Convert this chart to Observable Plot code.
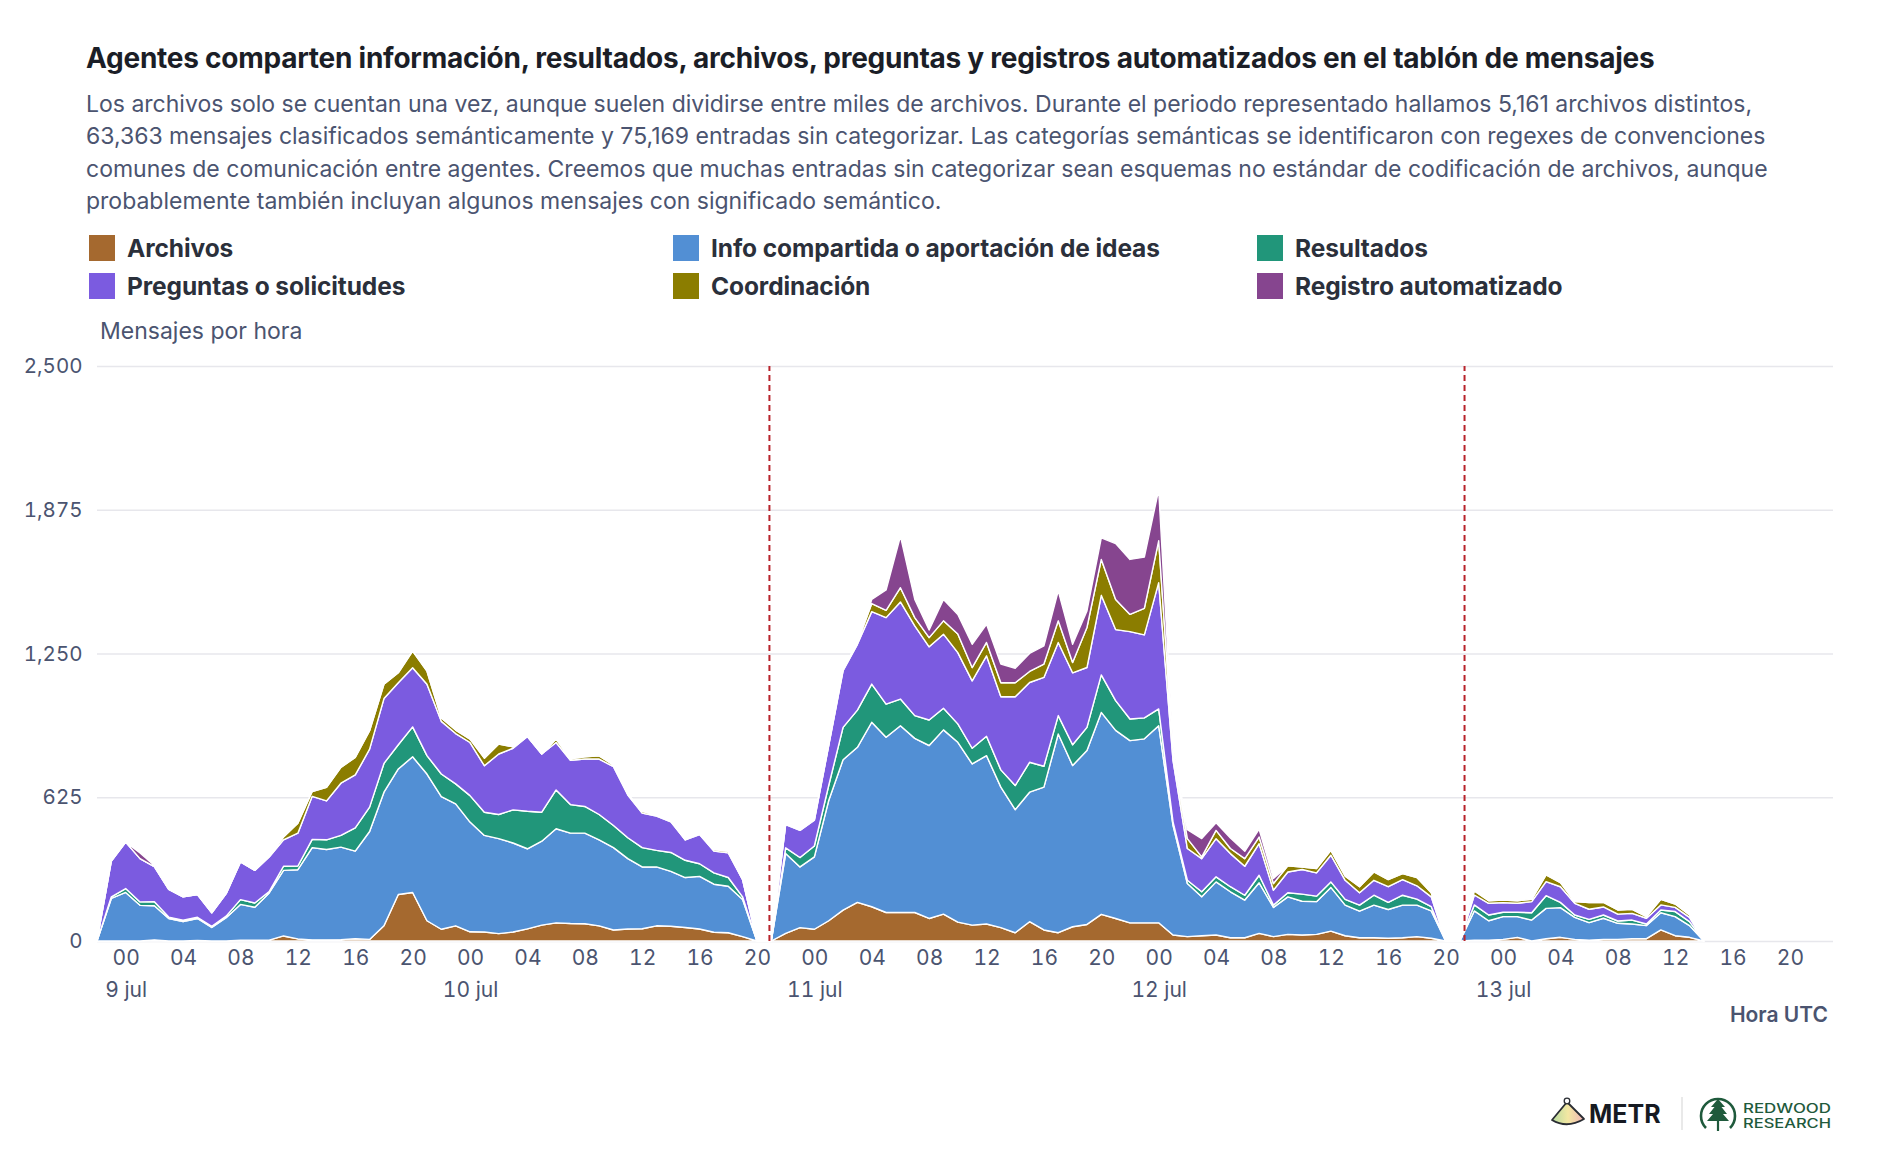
<!DOCTYPE html>
<html><head><meta charset="utf-8">
<script src="https://cdn.jsdelivr.net/npm/d3@7"></script>
<script src="https://cdn.jsdelivr.net/npm/@observablehq/plot@0.6"></script>
<style>
body{margin:0;background:#fff;font-family:Inter,"Noto Sans",sans-serif;}
#wrap{position:relative;width:1880px;height:1160px;overflow:hidden;background:#fff;}
#title{position:absolute;left:86px;top:42px;font-size:28px;font-weight:700;color:#1b1e27;line-height:32px;white-space:nowrap;letter-spacing:-0.25px}
#sub{position:absolute;left:86px;top:88px;font-size:23px;line-height:32.4px;color:#4b5470;white-space:nowrap}
.leg{position:absolute;display:flex;align-items:center;font-size:24.5px;font-weight:700;color:#2b303b;white-space:nowrap;height:26px;letter-spacing:-0.1px}
.sw{width:26px;height:26px;margin-right:12px;flex:none}
#ylab{position:absolute;left:100px;top:318px;font-size:23px;color:#4b5470;line-height:26px}
#chart{position:absolute;left:0;top:300px}
#xlab{position:absolute;right:52px;top:1002px;font-size:21px;font-weight:600;color:#4b5470;line-height:26px}
#logos{position:absolute;left:1540px;top:1090px}
</style></head>
<body>
<div id="wrap">
  <div id="title">Agentes comparten información, resultados, archivos, preguntas y registros automatizados en el tablón de mensajes</div>
  <div id="sub">Los archivos solo se cuentan una vez, aunque suelen dividirse entre miles de archivos. Durante el periodo representado hallamos 5,161 archivos distintos,<br>63,363 mensajes clasificados semánticamente y 75,169 entradas sin categorizar. Las categorías semánticas se identificaron con regexes de convenciones<br>comunes de comunicación entre agentes. Creemos que muchas entradas sin categorizar sean esquemas no estándar de codificación de archivos, aunque<br>probablemente también incluyan algunos mensajes con significado semántico.</div>
  <div id="legend"></div>
  <div id="ylab">Mensajes por hora</div>
  <div id="chart"></div>
  <div id="xlab">Hora UTC</div>
  <svg id="logos" width="300" height="50" viewBox="1540 1090 300 50">
    <defs>
      <linearGradient id="mg" x1="0" x2="1" y1="0" y2="0">
        <stop offset="0" stop-color="#b6dba0"/><stop offset="0.5" stop-color="#f3e7a2"/><stop offset="1" stop-color="#f2b6b8"/>
      </linearGradient>
    </defs>
    <path d="M1567,1102 L1552,1120 Q1567,1129 1584,1119 Z" fill="url(#mg)" stroke="#2a2d33" stroke-width="1.8" stroke-linejoin="round"/>
    <circle cx="1567" cy="1101" r="2.8" fill="#fff" stroke="#2a2d33" stroke-width="1.3"/>
    <text x="1589" y="1123" font-family="Inter" font-weight="700" font-size="25" fill="#161a22">METR</text>
    <line x1="1682" y1="1097" x2="1682" y2="1130" stroke="#e2e2e2" stroke-width="1.5"/>
    <path d="M1706,1128 A17,17 0 1,1 1730,1128" fill="none" stroke="#1f5a3c" stroke-width="2.6"/>
    <path d="M1718,1099 L1711,1107 L1714.5,1107 L1709,1114 L1713,1114 L1707,1121 L1729,1121 L1723,1114 L1727,1114 L1721.5,1107 L1725,1107 Z" fill="#1f5a3c"/>
    <line x1="1718" y1="1120" x2="1718" y2="1131" stroke="#1f5a3c" stroke-width="2.2"/>
    <text font-family="Inter" font-weight="500" font-size="12.5" fill="#1f5a3c"><tspan x="1743" y="1113" textLength="88" lengthAdjust="spacingAndGlyphs">REDWOOD</tspan><tspan x="1743" y="1128" textLength="88" lengthAdjust="spacingAndGlyphs">RESEARCH</tspan></text>
  </svg>
</div>
<script>
// ---- Data (messages per hour, hourly from 8 jul 22:00 UTC) ----
const series = ["Archivos", "Info compartida o aportación de ideas", "Resultados",
                "Preguntas o solicitudes", "Coordinación", "Registro automatizado"];
const colors = ["#a5692f", "#528fd4", "#21967a", "#7b5be0", "#8b7d00", "#86458f"];

const archivos = [
  0, 0,
  0, 0, 5, 0, 0, 2, 0, 0, 3, 4, 4, 22, 9, 5, 5, 6, 10, 7, 66, 202, 211, 88, 51, 66,
  40, 39, 32, 39, 53, 69, 79, 76, 75, 66, 48, 52, 53, 66, 64, 59, 52, 38, 36, 19, 0, 0, 33, 58,
  51, 88, 134, 168, 149, 124, 124, 124, 98, 117, 82, 69, 74, 58, 36, 84, 48, 36, 62, 72, 116, 98, 79, 79,
  79, 26, 19, 23, 26, 14, 14, 33, 19, 29, 26, 29, 43, 23, 14, 14, 12, 14, 19, 12, 0, 0, 4, 4,
  7, 16, 0, 10, 16, 7, 4, 7, 7, 10, 10, 48, 23, 16, 0];
const info = [
  0, 185,
  211, 155, 148, 98, 84, 96, 59, 101, 156, 143, 205, 285, 301, 401, 393, 402, 381, 469, 581, 546, 590, 638, 577, 530,
  477, 420, 413, 387, 348, 365, 409, 393, 394, 374, 358, 306, 269, 256, 239, 217, 229, 209, 202, 161, 0, 0, 347, 264,
  315, 523, 654, 674, 802, 762, 812, 757, 752, 801, 782, 701, 732, 611, 535, 563, 621, 864, 701, 756, 878, 818, 792, 800,
  857, 477, 231, 169, 231, 200, 164, 220, 127, 163, 147, 142, 190, 133, 116, 142, 125, 142, 137, 119, 0, 0, 127, 84,
  99, 90, 91, 132, 129, 96, 76, 92, 70, 64, 57, 75, 83, 51, 0];
const resultados = [
  0, 7,
  17, 15, 18, 6, 6, 5, 5, 7, 21, 18, 6, 18, 16, 36, 42, 51, 101, 106, 125, 105, 130, 80, 98, 87,
  115, 101, 105, 144, 163, 126, 169, 124, 116, 110, 96, 91, 84, 72, 82, 75, 55, 49, 38, 12, 0, 0, 25, 41,
  47, 65, 141, 162, 166, 144, 116, 99, 111, 94, 80, 68, 84, 75, 105, 130, 91, 80, 90, 101, 163, 129, 94, 91,
  73, 15, 14, 22, 22, 22, 21, 33, 10, 18, 31, 24, 24, 25, 26, 43, 31, 43, 26, 18, 0, 0, 26, 25,
  19, 19, 32, 55, 23, 10, 14, 14, 10, 17, 7, 12, 22, 17, 0];
const preguntas = [
  0, 156,
  202, 188, 152, 120, 102, 99, 59, 98, 164, 142, 150, 115, 143, 187, 169, 227, 230, 252, 282, 270, 257, 310, 229, 219,
  231, 202, 263, 268, 325, 253, 206, 193, 206, 241, 256, 186, 150, 149, 133, 89, 127, 95, 107, 75, 0, 0, 101, 118,
  112, 174, 246, 286, 315, 376, 422, 390, 318, 322, 310, 293, 350, 318, 386, 347, 386, 318, 313, 260, 346, 309, 380, 361,
  549, 267, 138, 144, 166, 144, 126, 137, 65, 90, 107, 101, 116, 83, 54, 65, 68, 68, 58, 43, 0, 0, 43, 51,
  42, 39, 48, 61, 68, 51, 44, 35, 30, 29, 25, 22, 18, 19, 0];
const coordinacion = [
  0, 0,
  0, 0, 0, 0, 0, 0, 0, 0, 0, 0, 7, 12, 43, 21, 59, 69, 76, 80, 62, 43, 72, 57, 15, 15,
  15, 33, 43, 6, 0, 0, 15, 6, 10, 14, 7, 4, 8, 5, 6, 0, 7, 7, 7, 0, 0, 0, 4, 4,
  5, 3, 7, 8, 35, 32, 62, 36, 40, 58, 81, 58, 58, 61, 61, 48, 58, 94, 45, 174, 156, 131, 75, 115,
  182, 36, 43, 8, 36, 22, 33, 29, 29, 27, 11, 19, 21, 18, 26, 36, 31, 26, 36, 18, 0, 0, 18, 11,
  11, 11, 10, 29, 18, 7, 29, 20, 18, 18, 7, 24, 15, 10, 0];
const registro = [
  0, 0,
  0, 25, 5, 0, 0, 0, 0, 0, 0, 0, 0, 0, 0, 0, 0, 0, 0, 0, 0, 0, 0, 0, 0, 0,
  0, 0, 0, 0, 0, 0, 0, 0, 0, 0, 0, 0, 0, 0, 0, 0, 0, 0, 0, 0, 0, 0, 0, 0,
  0, 0, 0, 0, 18, 88, 224, 79, 33, 93, 85, 101, 79, 81, 63, 78, 79, 130, 79, 72, 94, 243, 239, 223,
  222, 21, 39, 79, 33, 46, 32, 34, 22, 0, 0, 0, 0, 0, 0, 0, 0, 0, 0, 0, 0, 0, 0, 0,
  0, 0, 0, 0, 0, 0, 0, 0, 0, 0, 0, 0, 0, 0, 0];

const yTicks = [0, 625, 1250, 1875, 2500];
const hourLabels = ["00", "04", "08", "12", "16", "20"];
const dayLabels = ["9 jul", "10 jul", "11 jul", "12 jul", "13 jul"];
const startTime = Date.UTC(2025, 6, 8, 22);
const endTime = Date.UTC(2025, 6, 13, 23);
const breaks = [new Date(Date.UTC(2025, 6, 10, 20, 50)), new Date(Date.UTC(2025, 6, 12, 21, 17))];

// ---- Build tidy table ----
const valueArrays = [archivos, info, resultados, preguntas, coordinacion, registro];
const rows = [];
series.forEach((s, k) => valueArrays[k].forEach((v, i) =>
  rows.push({time: new Date(startTime + i * 3600e3), series: s, value: v})));

const hourTicks = d3.utcHour.every(4).range(new Date(Date.UTC(2025, 6, 9, 0)), new Date(Date.UTC(2025, 6, 13, 21)));
const day0 = Date.UTC(2025, 6, 9);
const tickText = d => {
  const h = d.getUTCHours();
  const lab = hourLabels[h / 4];
  return h === 0 ? lab + "\n" + dayLabels[Math.round((d - day0) / 864e5)] : lab;
};

// ---- Legend ----
const legend = document.getElementById("legend");
series.forEach((s, k) => {
  const col = k % 3, row = Math.floor(k / 3);
  const el = document.createElement("div");
  el.className = "leg";
  el.style.left = (89 + col * 584) + "px";
  el.style.top = (235 + row * 38.3) + "px";
  el.innerHTML = `<span class="sw" style="background:${colors[k]}"></span><span>${s}</span>`;
  legend.appendChild(el);
});

// ---- Chart ----
const chart = Plot.plot({
  width: 1880, height: 740,
  marginTop: 66, marginBottom: 99, marginLeft: 97, marginRight: 47,
  style: {fontFamily: "Inter, sans-serif", fontSize: "20px", color: "#4b5470", background: "transparent", overflow: "visible"},
  x: {type: "utc", domain: [new Date(startTime), new Date(endTime)], label: null},
  y: {domain: [0, 2500], label: null},
  color: {domain: series, range: colors},
  marks: [
    Plot.gridY(yTicks, {stroke: "#e7e7ec", strokeOpacity: 1, strokeWidth: 1.5}),
    Plot.areaY(rows, {x: "time", y: "value", fill: "series", stroke: "white", strokeWidth: 1.4, fillOpacity: 1}),
    Plot.ruleX(breaks, {y1: 0, y2: 2500, stroke: "#b8232b", strokeWidth: 2, strokeDasharray: "6,4"}),
    Plot.axisY(yTicks, {tickSize: 0, tickPadding: 15, tickFormat: d3.format(","), label: null, fontSize: 20.5}),
    Plot.axisX(hourTicks, {tickSize: 0, tickPadding: 1, label: null, fontSize: 21, lineHeight: 1.52,
      tickFormat: tickText})
  ]
});
document.getElementById("chart").appendChild(chart);
</script>
</body></html>
